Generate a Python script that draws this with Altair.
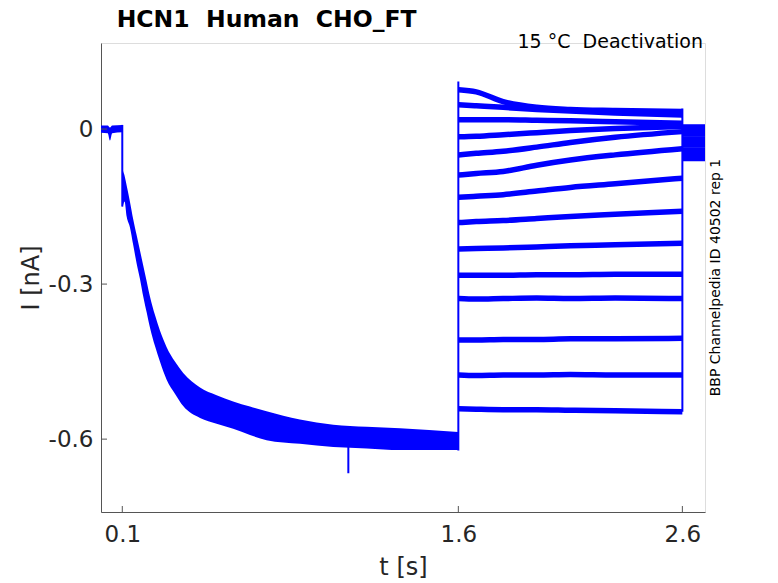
import altair as alt
import pandas as pd

FONT = "DejaVu Sans"
BLUE = "#0000ff"
AX = "#555555"
TXT = "#262626"
NB = "\u00a0"

# ---- activation phase (all sweeps overlapping): band envelope ----
act_t = [0.005, 0.035, 0.045, 0.055, 0.0995, 0.101, 0.11, 0.12, 0.134, 0.149, 0.164,
         0.179, 0.194, 0.209, 0.224, 0.246, 0.268, 0.298, 0.335, 0.372, 0.447, 0.521,
         0.595, 0.67, 0.744, 0.893, 1.042, 1.191, 1.34, 1.599]
act_hi = [0.007, 0.007, 0.003, 0.007, 0.008, -0.075, -0.09, -0.11, -0.14, -0.175, -0.205,
          -0.235, -0.265, -0.295, -0.325, -0.36, -0.39, -0.422, -0.45, -0.472, -0.500, -0.515,
          -0.527, -0.537, -0.546, -0.562, -0.572, -0.576, -0.579, -0.586]
act_lo = [-0.007, -0.008, -0.022, -0.008, -0.006, -0.15, -0.14, -0.17, -0.19, -0.225, -0.26,
          -0.29, -0.325, -0.355, -0.385, -0.42, -0.45, -0.485, -0.512, -0.536, -0.559, -0.570,
          -0.580, -0.592, -0.602, -0.609, -0.615, -0.618, -0.621, -0.621]

# ---- deactivation steps (14 sweeps) ----
step_t = [1.601, 1.68, 1.8, 1.95, 2.1, 2.3, 2.6]
sweeps = [
    [0.076, 0.072, 0.053, 0.042, 0.038, 0.036, 0.034],
    [0.047, 0.045, 0.042, 0.038, 0.035, 0.031, 0.027],
    [0.018, 0.018, 0.018, 0.017, 0.016, 0.014, 0.011],
    [-0.015, -0.014, -0.011, -0.007, -0.003, 0.001, 0.005],
    [-0.050, -0.047, -0.043, -0.035, -0.026, -0.016, -0.005],
    [-0.089, -0.086, -0.082, -0.070, -0.060, -0.050, -0.038],
    [-0.132, -0.130, -0.127, -0.120, -0.113, -0.106, -0.095],
    [-0.181, -0.179, -0.177, -0.173, -0.169, -0.165, -0.159],
    [-0.232, -0.231, -0.230, -0.228, -0.226, -0.224, -0.221],
    [-0.283, -0.283, -0.283, -0.282, -0.282, -0.281, -0.281],
    [-0.328, -0.329, -0.328, -0.327, -0.328, -0.327, -0.328],
    [-0.408, -0.408, -0.407, -0.407, -0.406, -0.406, -0.405],
    [-0.476, -0.477, -0.476, -0.476, -0.475, -0.476, -0.476],
    [-0.541, -0.542, -0.543, -0.543, -0.544, -0.545, -0.547],
]
tail_t = [2.601, 2.701]
tail_v = [0.004, 0.001, -0.002, -0.005, -0.009, -0.019, -0.023, -0.027, -0.031,
          -0.041, -0.045, -0.049, -0.053, -0.057]

# ---- vertical transitions / spikes ----
rule_t = [0.1, 1.6, 2.6, 1.109]
rule_lo = [-0.15, -0.622, -0.547, -0.666]
rule_hi = [0.008, 0.092, 0.040, -0.600]

xtick_vals = [0.1, 1.6, 2.6]
ytick_vals = [0, -0.3, -0.6]

XDOM = [0.005, 2.701]
YDOM = [-0.741, 0.1665]

# ---- tables ----
act_df = pd.DataFrame({"t": act_t, "hi": act_hi, "lo": act_lo})
rows = []
for i, s in enumerate(sweeps):
    for t, v in zip(step_t, s):
        rows.append({"t": t, "v": v, "seg": f"s{i}"})
    for t in tail_t:
        rows.append({"t": t, "v": tail_v[i], "seg": f"tail{i}"})
line_df = pd.DataFrame(rows)
rule_df = pd.DataFrame({"t": rule_t, "lo": rule_lo, "hi": rule_hi})
xt_df = pd.DataFrame({"t": xtick_vals})
yt_df = pd.DataFrame({"v": ytick_vals})

xscale = alt.Scale(domain=XDOM, nice=False, zero=False)
yscale = alt.Scale(domain=YDOM, nice=False, zero=False)

xaxis = alt.Axis(values=xtick_vals, format=".1f", tickSize=0, grid=False,
                 labelFontSize=23, labelColor=TXT, labelFont=FONT, labelPadding=11,
                 labelFlush=False, domainColor=AX, domainWidth=1,
                 title="t [s]", titleFont=FONT, titleFontSize=24, titleFontWeight="normal",
                 titleColor=TXT, titleX=302, titleY=55, titleBaseline="middle")
yaxis = alt.Axis(values=ytick_vals, labelExpr="datum.value < 0 ? '-' + format(-datum.value, '.1f') : '0'",
                 tickSize=0, grid=False, labelFontSize=23, labelColor=TXT, labelFont=FONT,
                 labelPadding=8, labelFlush=False, domainColor=AX, domainWidth=1,
                 title="I [nA]", titleFont=FONT, titleFontSize=24, titleFontWeight="normal",
                 titleColor=TXT, titleX=-70, titleY=234.5, titleBaseline="middle", titleAngle=270)

band = alt.Chart(act_df).mark_area(color=BLUE, opacity=1, interpolate="monotone").encode(
    x=alt.X("t:Q", scale=xscale, axis=xaxis),
    y=alt.Y("hi:Q", scale=yscale, axis=yaxis),
    y2="lo:Q",
)

lines = alt.Chart(line_df).mark_line(color=BLUE, strokeWidth=5.5, strokeJoin="round",
                                     interpolate="monotone").encode(
    x="t:Q", y="v:Q", detail="seg:N", order="t:Q"
)

rules = alt.Chart(rule_df).mark_rule(color=BLUE, strokeWidth=2).encode(
    x="t:Q", y="lo:Q", y2="hi:Q"
)

xticks = alt.Chart(xt_df).mark_rule(color=AX, strokeWidth=1).encode(
    x="t:Q", y=alt.value(469), y2=alt.value(463)
)
yticks = alt.Chart(yt_df).mark_rule(color=AX, strokeWidth=1).encode(
    y="v:Q", x=alt.value(0), x2=alt.value(6)
)

title_txt = alt.Chart(pd.DataFrame({"s": [f"HCN1{NB}{NB}Human{NB}{NB}CHO_FT"]})).mark_text(
    font=FONT, fontSize=23.5, fontWeight="bold", color="black", align="left", baseline="alphabetic"
).encode(x=alt.value(15.7), y=alt.value(-16), text="s:N")

cond_txt = alt.Chart(pd.DataFrame({"s": [f"15 °C{NB}{NB}Deactivation"]})).mark_text(
    font=FONT, fontSize=19, color="black", align="right", baseline="alphabetic"
).encode(x=alt.value(602), y=alt.value(5), text="s:N")

id_txt = alt.Chart(pd.DataFrame({"s": ["BBP Channelpedia ID 40502 rep 1"]})).mark_text(
    font=FONT, fontSize=14, color="black", align="center", baseline="middle", angle=270
).encode(x=alt.value(615), y=alt.value(234.5), text="s:N")

chart = alt.layer(band, lines, rules, xticks, yticks, title_txt, cond_txt, id_txt).properties(
    width=604, height=469,
    autosize=alt.AutoSizeParams(type="none"),
    padding={"left": 93, "top": 35, "right": 65, "bottom": 70},
).configure_view(strokeWidth=0).configure(background="white")

chart.save("out.html", embed_options={"renderer": "svg", "actions": False})
